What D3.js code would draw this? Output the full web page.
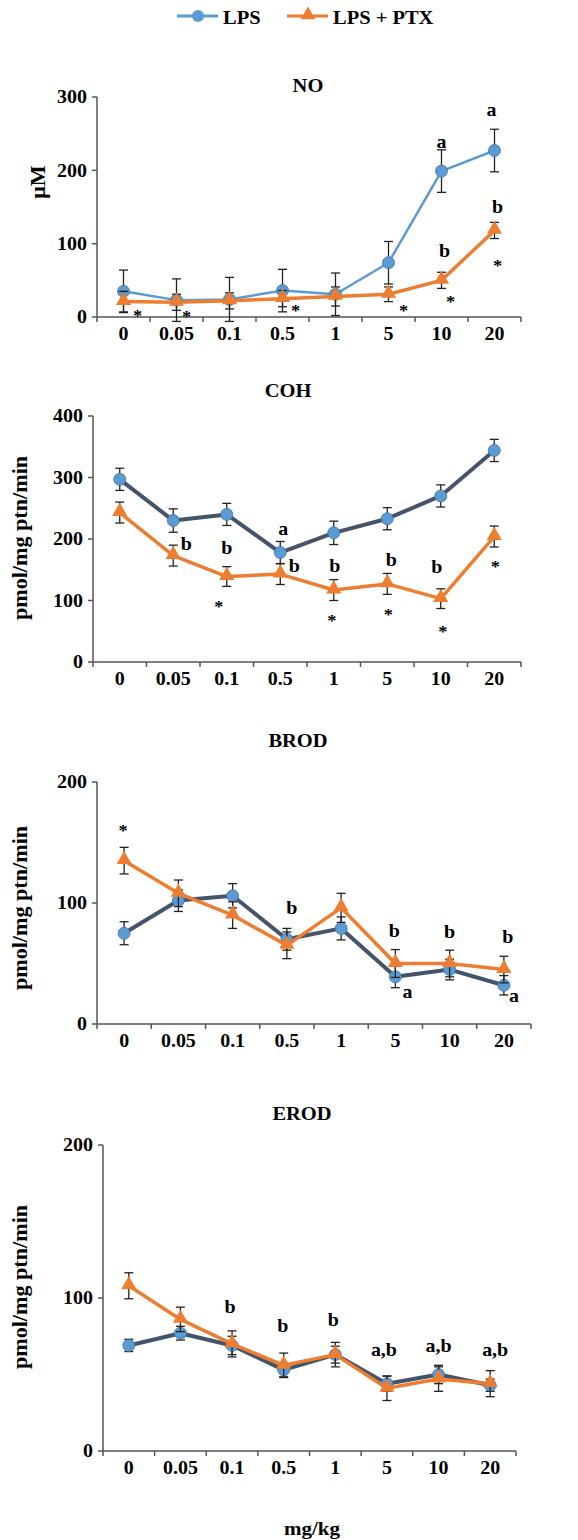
<!DOCTYPE html>
<html>
<head>
<meta charset="utf-8">
<script src="https://cdn.jsdelivr.net/npm/d3@7"></script>
<style>
  body { margin: 0; background: #fff; }
  svg text { font-family: "Liberation Serif", "Times New Roman", serif; font-weight: bold; fill: #000; }
</style>
</head>
<body>
<div id="chart"></div>
<script>
// dose categories (x axis)
var doses = ["0", "0.05", "0.1", "0.5", "1", "5", "10", "20"];

// NO (uM)
var noLps = [35, 23, 24, 36, 31, 74, 199, 227];
var noLpsErr = [29, 29, 30, 29, 29, 29, 29, 29];
var noPtx = [21, 20, 22, 25, 28, 31, 50, 118];
var noPtxErr = [14, 11, 11, 11, 13, 10, 11, 11];
var noNotes = [[0, 6, "*", 14], [1, 5, "*", 10], [3, 13, "*", 13], [5, 13, "*", 15], [6, 25, "*", 9], [7, 75, "*", 3],
  [6, 239, "a", 0], [7, 282, "a", -3], [6, 91, "b", 3], [7, 151, "b", 3]];

// COH
var cohLps = [297, 230, 240, 178, 210, 233, 270, 344];
var cohLpsErr = [18, 19, 18, 18, 19, 18, 18, 18];
var cohPtx = [243, 173, 139, 143, 117, 127, 103, 204];
var cohPtxErr = [17, 17, 16, 17, 17, 17, 16, 17];
var cohNotes = [[1, 192, "b", 13], [2, 185, "b", 0], [2, 95, "*", -8], [3, 216, "a", 3], [3, 156, "b", 14], [4, 156, "b", 1],
  [4, 72, "*", -2], [5, 167, "b", 4], [5, 82, "*", 1], [6, 155, "b", -4], [6, 55, "*", 2], [7, 160, "*", 1]];

// BROD
var brodLps = [75, 102, 106, 70, 79, 39, 45, 32];
var brodLpsErr = [9.5, 9, 10, 9, 9.5, 9, 8.5, 8];
var brodPtx = [135, 108, 90, 65, 96, 50, 50, 45];
var brodPtxErr = [11, 11, 11, 11, 12, 11.5, 11, 11];
var brodNotes = [[0, 163, "*", -1], [3, 96, "b", 5], [5, 77, "b", -1], [5, 27, "a", 12], [6, 76, "b", 0], [7, 72, "b", 4], [7, 23, "a", 10]];

// EROD
var erodLps = [69, 77, 69, 53, 63, 44, 50, 43];
var erodLpsErr = [4, 4.5, 6, 4.5, 5.5, 5, 6, 4];
var erodPtx = [108, 86, 70, 56, 63, 41, 47, 44];
var erodPtxErr = [8.5, 8, 8.5, 8, 8, 8, 8, 8.5];
var erodNotes = [[2, 94, "b", -2], [3, 82, "b", -1], [4, 86, "b", -2], [5, 66, "a,b", -3], [6, 69, "a,b", 0], [7, 66, "a,b", 5]];

var yTicksNO = [0, 100, 200, 300];
var yTicksCOH = [0, 100, 200, 300, 400];
var yTicks200 = [0, 100, 200];

var BLUE = "#5b9bd5", NAVY = "#44546a", ORANGE = "#ed7d31";

var svg = d3.select("#chart").append("svg")
  .attr("width", 578)
  .attr("height", 1540);

// text helper, glyphs in the original are a bit wide
function label(g, x, y, s, size, anchor, rot, stretch) {
  var sx = stretch || 1.08;
  var t = "translate(" + x + "," + y + ")" + (rot ? " rotate(" + rot + ")" : "") + " scale(" + sx + ",1)";
  return g.append("text")
    .attr("transform", t)
    .attr("text-anchor", anchor || "middle")
    .attr("dominant-baseline", "central")
    .style("font-size", size + "px")
    .text(s);
}

// Legend
var leg = svg.append("g");
leg.append("line").attr("x1", 177).attr("x2", 218).attr("y1", 16).attr("y2", 16)
  .style("stroke", BLUE).style("stroke-width", 3);
leg.append("circle").attr("cx", 198).attr("cy", 16).attr("r", 6).style("fill", BLUE);
label(leg, 223, 17, "LPS", 19.5, "start", 0, 1.05);
leg.append("line").attr("x1", 287).attr("x2", 328).attr("y1", 16).attr("y2", 16)
  .style("stroke", ORANGE).style("stroke-width", 3);
leg.append("path").attr("transform", "translate(308,15)")
  .attr("d", d3.symbol().type(d3.symbolTriangle).size(95)).style("fill", ORANGE);
label(leg, 333, 17, "LPS + PTX", 19.5, "start", 0, 1.05);

var panels = [
  { title: "NO", tx: 308, ty: 85, ylab: "\u03bcM", ylx: 38, yly: 182, x0: 97, x1: 521, yTop: 97, yBot: 317, ymax: 300,
    ticks: yTicksNO, lps: noLps, lpsErr: noLpsErr, ptx: noPtx, ptxErr: noPtxErr, notes: noNotes, lpsLine: BLUE, lpsW: 2.5 },
  { title: "COH", tx: 288, ty: 390, ylab: "pmol/mg ptn/min", ylx: 20, yly: 538, x0: 93, x1: 521, yTop: 416, yBot: 662, ymax: 400,
    ticks: yTicksCOH, lps: cohLps, lpsErr: cohLpsErr, ptx: cohPtx, ptxErr: cohPtxErr, notes: cohNotes, lpsLine: NAVY, lpsW: 4 },
  { title: "BROD", tx: 298, ty: 740, ylab: "pmol/mg ptn/min", ylx: 20, yly: 908, x0: 97, x1: 531, yTop: 782, yBot: 1024, ymax: 200,
    ticks: yTicks200, lps: brodLps, lpsErr: brodLpsErr, ptx: brodPtx, ptxErr: brodPtxErr, notes: brodNotes, lpsLine: NAVY, lpsW: 4 },
  { title: "EROD", tx: 302, ty: 1113, ylab: "pmol/mg ptn/min", ylx: 20, yly: 1287, x0: 103, x1: 516, yTop: 1145, yBot: 1451, ymax: 200,
    ticks: yTicks200, lps: erodLps, lpsErr: erodLpsErr, ptx: erodPtx, ptxErr: erodPtxErr, notes: erodNotes, lpsLine: NAVY, lpsW: 4 }
];

panels.forEach(function(p) {
  var g = svg.append("g");
  var x = d3.scaleBand().domain(doses).range([p.x0, p.x1]);
  var y = d3.scaleLinear().domain([0, p.ymax]).range([p.yBot, p.yTop]);
  var cx = function(i) { return x(doses[i]) + x.bandwidth() / 2; };

  label(g, p.tx, p.ty, p.title, 19);
  label(g, p.ylx, p.yly, p.ylab, 20.5, "middle", -90);

  // axes
  var xAxis = g.append("g").attr("transform", "translate(0," + p.yBot + ")");
  xAxis.append("line").attr("x1", p.x0).attr("x2", p.x1).style("stroke", "#555").style("stroke-width", 1.5);
  xAxis.selectAll(".tk").data(d3.range(doses.length + 1)).enter().append("line")
    .attr("x1", function(d) { return p.x0 + d * x.bandwidth(); })
    .attr("x2", function(d) { return p.x0 + d * x.bandwidth(); })
    .attr("y1", 0).attr("y2", 5).style("stroke", "#555").style("stroke-width", 1.5);
  doses.forEach(function(d, i) { label(g, cx(i), p.yBot + 17, d, 18.5); });

  var yAxis = g.append("g").attr("transform", "translate(" + p.x0 + ",0)");
  yAxis.append("line").attr("y1", p.yTop).attr("y2", p.yBot).style("stroke", "#555").style("stroke-width", 1.5);
  p.ticks.forEach(function(t) {
    yAxis.append("line").attr("x1", -5).attr("x2", 0).attr("y1", y(t)).attr("y2", y(t))
      .style("stroke", "#555").style("stroke-width", 1.5);
    label(g, p.x0 - 10, y(t), t, 18.5, "end");
  });

  var line = d3.line().x(function(d, i) { return cx(i); }).y(function(d) { return y(d); });

  function series(vals, errs, color, width, isTri) {
    g.append("path").datum(vals).attr("d", line)
      .style("fill", "none").style("stroke", color).style("stroke-width", width).style("stroke-linejoin", "round");
    vals.forEach(function(v, i) {
      var e = errs[i];
      g.append("line").attr("x1", cx(i)).attr("x2", cx(i)).attr("y1", y(v - e)).attr("y2", y(v + e))
        .style("stroke", "#222").style("stroke-width", 1.3);
      [v - e, v + e].forEach(function(c) {
        g.append("line").attr("x1", cx(i) - 4.5).attr("x2", cx(i) + 4.5).attr("y1", y(c)).attr("y2", y(c))
          .style("stroke", "#222").style("stroke-width", 1.3);
      });
    });
    vals.forEach(function(v, i) {
      if (isTri) {
        g.append("path").attr("transform", "translate(" + cx(i) + "," + (y(v) - 1) + ")")
          .attr("d", d3.symbol().type(d3.symbolTriangle).size(100)).style("fill", ORANGE);
      } else {
        g.append("circle").attr("cx", cx(i)).attr("cy", y(v)).attr("r", 6)
          .style("fill", BLUE).style("stroke", "#41719c").style("stroke-width", 0.8);
      }
    });
  }
  series(p.lps, p.lpsErr, p.lpsLine, p.lpsW, false);
  series(p.ptx, p.ptxErr, ORANGE, 3.5, true);

  p.notes.forEach(function(n) {
    var star = n[2] === "*";
    label(g, cx(n[0]) + n[3], y(n[1]) + (star ? 3 : 0), n[2], star ? 17 : 18.5);
  });
});

label(svg, 312, 1528, "mg/kg", 19.5);
</script>
</body>
</html>
